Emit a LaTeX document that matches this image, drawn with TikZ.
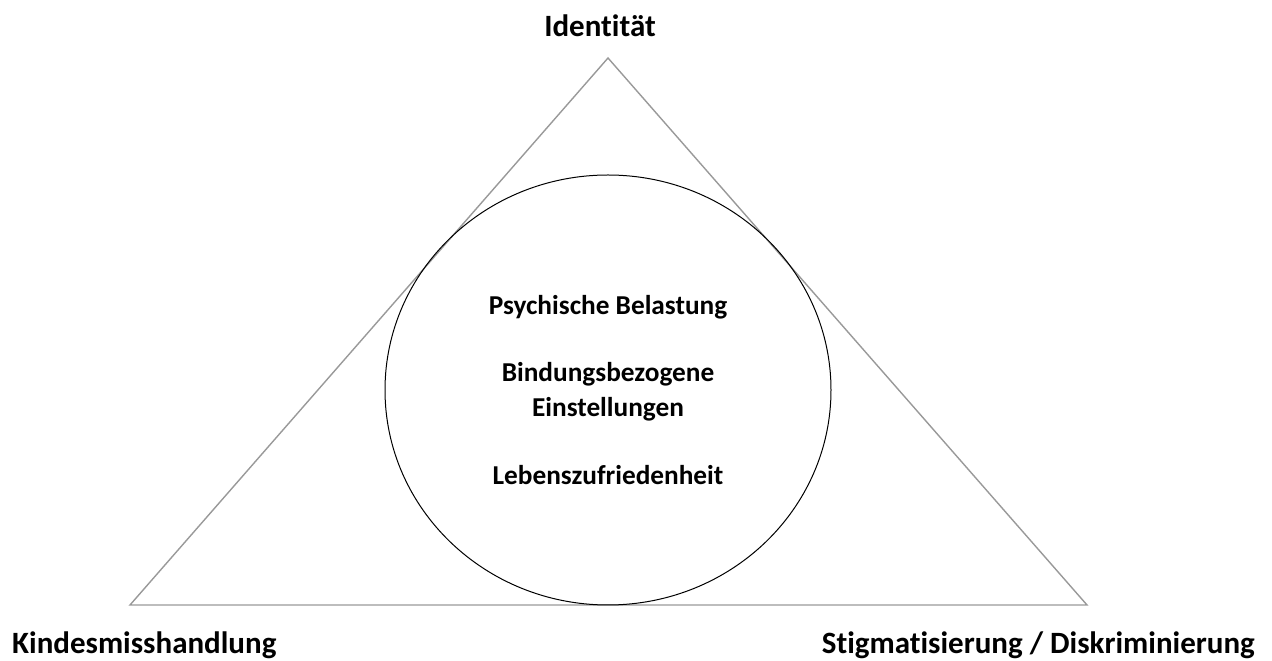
\documentclass[tikz,border=0pt]{standalone}
\usepackage{fontspec}
\setmainfont{Carlito}[Ligatures={NoCommon,NoContextual}]

\begin{document}
\begin{tikzpicture}[x=1pt,y=1pt,
        cornerlabel/.style={font=\bfseries\fontsize{31}{37}\selectfont, inner sep=0pt},
        factor/.style={font=\bfseries\fontsize{27.3}{35}\selectfont, inner sep=0pt, align=center}]
    \useasboundingbox (0,0) rectangle (1272,661);

    %corners of the triangle
    \coordinate (top) at (608,603);
    \coordinate (left) at (130,56);
    \coordinate (right) at (1087,56);
    \draw[color=gray!80, line width=1.4pt] (top) -- (left) -- (right) -- cycle;

    %circle in the middle
    \draw[line width=1pt] (608,271) ellipse [x radius=223, y radius=215];

    \node[cornerlabel, anchor=base] (identitaet) at (600,624) {Identität};
    \node[cornerlabel, anchor=base west] (misshandlung) at (12,7) {Kindesmisshandlung};
    \node[cornerlabel, anchor=base east] (stigma) at (1255,7) {Stigmatisierung / Diskriminierung};

    \node[factor, anchor=base] (belastung) at (608,346) {Psychische Belastung};
    \node[factor, anchor=base] (bindung) at (608,279) {Bindungsbezogene};
    \node[factor, anchor=base] (einstellungen) at (608,244) {Einstellungen};
    \node[factor, anchor=base] (zufriedenheit) at (608,176) {Lebenszufriedenheit};
\end{tikzpicture}
\end{document}
